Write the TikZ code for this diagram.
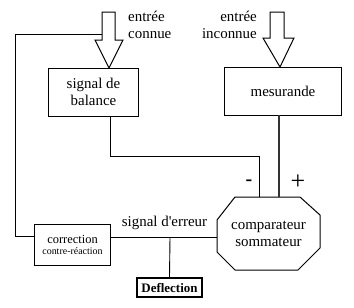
\documentclass[tikz,border=0pt]{standalone}
\usepackage{fontspec}
\setmainfont{Liberation Serif}
\begin{document}
\begin{tikzpicture}[x=1bp,y=-1bp,
  line/.style={line width=0.9bp},
  boxstyle/.style={draw,line width=1bp,rectangle,inner sep=0pt,align=center},
  bigtxt/.style={font=\fontsize{15}{17}\selectfont,inner sep=0pt}]
\useasboundingbox (0,0) rectangle (354,308);
% boxes
\node[boxstyle,bigtxt,minimum width=89bp,minimum height=48bp] (bal) at (93.5,92) {signal de\\balance};
\node[boxstyle,bigtxt,minimum width=116bp,minimum height=48bp] (mes) at (283,91) {mesurande};
\node[boxstyle,minimum width=75bp,minimum height=41bp] (corr) at (72.5,244.5)
  {{\fontsize{12.5}{15}\selectfont correction}\\[-1bp]{\fontsize{10}{12}\selectfont contre-réaction}};
\node[boxstyle,line width=1.4bp,minimum width=65bp,minimum height=19bp,font=\fontsize{13}{15}\selectfont\bfseries] (defl) at (169.5,287.5) {Deflection};
% octagon
\coordinate (o1) at (235,197); \coordinate (o2) at (300,197);
\coordinate (o3) at (320,215); \coordinate (o4) at (320,248);
\coordinate (o5) at (298,270); \coordinate (o6) at (235,270);
\coordinate (o7) at (217,252); \coordinate (o8) at (217,220);
\draw[line width=1bp] (o1) -- (o2) -- (o3) -- (o4) -- (o5) -- (o6) -- (o7) -- (o8) -- cycle;
\node[bigtxt,align=center] (comp) at (268.5,233.5) {comparateur\\sommateur};
% hollow input arrows
\draw[line width=1bp] (102,12) coordinate (a1l) -- (115,12) -- (115,40) -- (123,40) -- (109,68) coordinate (a1t) -- (95,40) -- (102,40) -- cycle;
\draw[line width=1bp] (270,12) -- (284,12) -- (284,38) -- (294,38) -- (280,67) coordinate (a2t) -- (263,38) -- (270,38) -- cycle;
\node[bigtxt,anchor=west,align=left] (inA) at (128,24.5) {entrée\\connue};
\node[bigtxt,anchor=east,align=right] (inB) at (257,24.5) {entrée\\inconnue};
% coordinates for connectors
\coordinate (bs) at (110,116);
\coordinate (minusin) at (259,197);
\coordinate (plusin) at (279,197);
\coordinate (ms) at (279,115);
\coordinate (shaft) at (102,34);
\coordinate (corrL) at (35,236);
\coordinate (corrR) at (110,237.5);
\coordinate (octL) at (217,237.5);
\coordinate (tap) at (170,237.5);
% connectors
\draw[line] (bs) -- (110,156) -- (259,156) -- (minusin);
\draw[line width=2bp,black!80] (ms) -- (plusin);
\draw[line] (corrL) -- (15,236) -- (15,34) -- (shaft);
\draw[line] (corrR) -- (octL);
\draw[line] (tap) -- (defl.north);
% labels
\node[bigtxt] (err) at (164.5,223) {signal d\textquotesingle erreur};
\node[inner sep=0pt,font=\fontsize{20}{20}\selectfont\bfseries] (minus) at (249,183) {-};
\node[inner sep=0pt,font=\fontsize{26}{26}\selectfont] (plus) at (298,182) {+};
\end{tikzpicture}
\end{document}
